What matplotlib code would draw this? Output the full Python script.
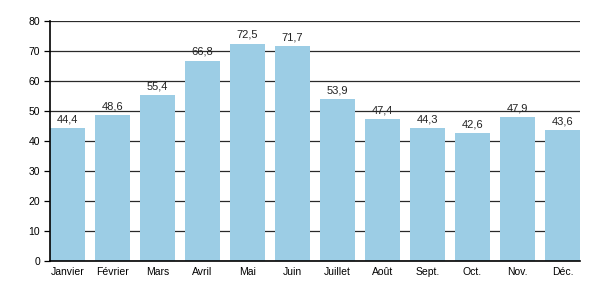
import matplotlib
matplotlib.use("Agg")
import matplotlib.pyplot as plt

months = ["Janvier", "Février", "Mars", "Avril", "Mai", "Juin",
          "Juillet", "Août", "Sept.", "Oct.", "Nov.", "Déc."]
values = [44.4, 48.6, 55.4, 66.8, 72.5, 71.7, 53.9, 47.4, 44.3, 42.6, 47.9, 43.6]
yticks = [0, 10, 20, 30, 40, 50, 60, 70, 80]

plt.rcParams["font.family"] = ["Liberation Sans", "DejaVu Sans"]

fig = plt.figure(figsize=(6, 3), dpi=100)
ax = fig.add_axes([50 / 600, 39 / 300, 530 / 600, 240 / 300])

x = list(range(len(months)))
ax.bar(x, values, width=0.78, color="#9ccde5", zorder=2)
for xi, v in zip(x, values):
    ax.text(xi, v + 1.2, f"{v:.1f}".replace(".", ","), ha="center",
            va="bottom", fontsize=8, color="#222222")

ax.set_ylim(0, 80)
ax.set_xlim(-0.39, 11.39)
ax.set_yticks(yticks)
ax.set_xticks(x)
ax.set_xticklabels(months)
ax.yaxis.grid(True, color="#2a2a2a", linewidth=0.9, zorder=1)
ax.set_axisbelow(True)
for s in ["top", "right"]:
    ax.spines[s].set_visible(False)
ax.spines["left"].set_linewidth(1.2)
ax.spines["bottom"].set_linewidth(1.2)
ax.tick_params(axis="x", length=0, labelsize=7.5, pad=4)
ax.tick_params(axis="y", length=4, labelsize=7.5, pad=3, width=0.9)

fig.savefig("out.png", dpi=100)
